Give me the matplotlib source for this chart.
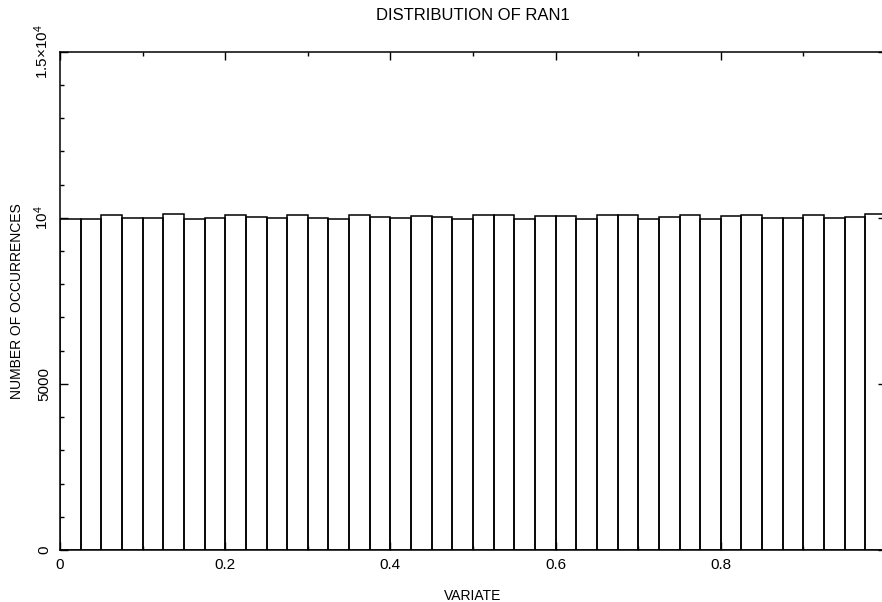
import matplotlib
matplotlib.use("Agg")
import matplotlib.pyplot as plt
from matplotlib.ticker import MultipleLocator, FixedLocator
import numpy as np

# counts per bin for 40 equal bins on [0, 1)
bin_width = 0.025
counts = [9975, 9965, 10085, 9995, 9985, 10105, 9965, 9995, 10075, 10025,
          9995, 10095, 9995, 9965, 10075, 10035, 9995, 10065, 10025, 9965,
          10085, 10075, 9965, 10055, 10045, 9965, 10095, 10075, 9975, 10035,
          10075, 9975, 10045, 10095, 9985, 10005, 10095, 10000, 10025, 10105]
x_ticks = [0, 0.2, 0.4, 0.6, 0.8]
x_labels = ["0", "0.2", "0.4", "0.6", "0.8"]
y_ticks = [0, 5000, 10000, 15000]
y_labels = ["0", "5000", r"$\mathregular{10^4}$", r"$\mathregular{1.5{\times}10^4}$"]

plt.rcParams["font.family"] = ["Liberation Sans", "DejaVu Sans"]
plt.rcParams["font.size"] = 10
plt.rcParams["mathtext.fontset"] = "custom"
plt.rcParams["mathtext.rm"] = "Liberation Sans"

fig = plt.figure(figsize=(8.82, 6.02), dpi=100)
ax = fig.add_axes([60 / 882, 52 / 602, 826 / 882, 498.3 / 602])

lefts = np.arange(len(counts)) * bin_width
ax.bar(lefts, counts, width=bin_width, align="edge", fill=False,
       edgecolor="black", linewidth=1.1)

ax.set_xlim(0, 1)
ax.set_ylim(0, 15000)

ax.xaxis.set_major_locator(FixedLocator(x_ticks))
ax.set_xticklabels(x_labels)
ax.xaxis.set_minor_locator(MultipleLocator(0.1))
ax.yaxis.set_major_locator(FixedLocator(y_ticks))
ax.set_yticklabels(y_labels)
ax.yaxis.set_minor_locator(MultipleLocator(1000))

ax.tick_params(which="both", direction="in", top=True, right=True, width=1.0,
               labelsize=11)
ax.tick_params(which="major", length=6)
ax.tick_params(which="minor", length=3)
ax.tick_params(axis="x", pad=5.5)
ax.tick_params(axis="y", pad=8.5)
for lab in ax.get_yticklabels():
    lab.set_rotation(90)
    lab.set_rotation_mode("anchor")
    lab.set_ha("center")
    lab.set_va("baseline")

for sp in ax.spines.values():
    sp.set_linewidth(1.1)

ax.set_title("DISTRIBUTION OF RAN1", pad=23)
ax.set_xlabel("VARIATE")
ax.xaxis.set_label_coords(0.5, -0.078)
ax.set_ylabel("NUMBER OF OCCURRENCES")
ax.yaxis.set_label_coords(-0.044, 0.5)

fig.savefig("out.png", dpi=100)
